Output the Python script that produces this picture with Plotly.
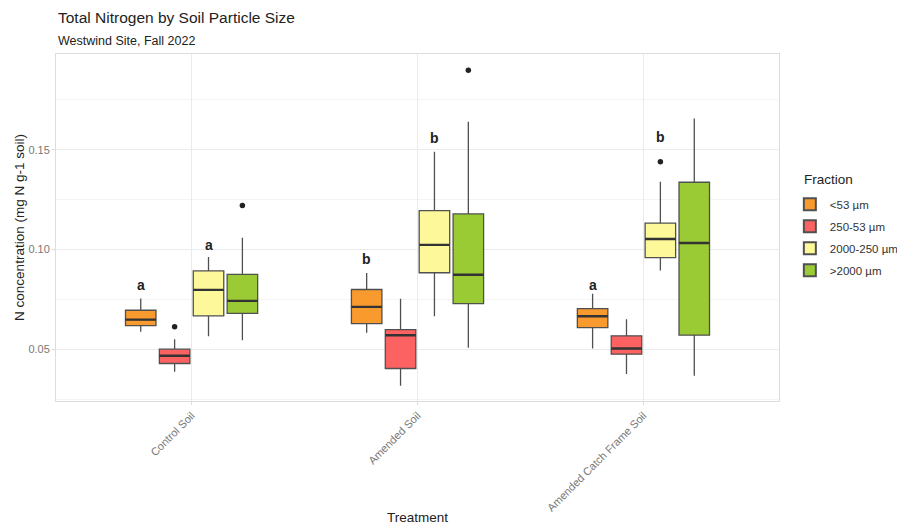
import plotly.graph_objects as go

treatments = ["Control Soil", "Amended Soil", "Amended Catch Frame Soil"]
fractions = ["<53 µm", "250-53 µm", "2000-250 µm", ">2000 µm"]
colors = ["#F99A2E", "#FC6262", "#FDF99A", "#9ACB34"]

lower = [
    [0.0587, 0.0582, 0.0503],
    [0.0387, 0.0317, 0.0375],
    [0.0565, 0.0665, 0.0895],
    [0.0545, 0.0507, 0.0367],
]
q1 = [
    [0.0618, 0.0628, 0.0608],
    [0.0428, 0.0403, 0.0475],
    [0.0667, 0.0883, 0.0959],
    [0.0679, 0.0728, 0.0570],
]
median = [
    [0.0648, 0.0712, 0.0665],
    [0.0467, 0.0570, 0.0503],
    [0.0797, 0.1023, 0.1052],
    [0.0742, 0.0873, 0.1032],
]
q3 = [
    [0.0695, 0.0799, 0.0703],
    [0.0500, 0.0598, 0.0567],
    [0.0892, 0.1195, 0.1132],
    [0.0875, 0.1178, 0.1337],
]
upper = [
    [0.0754, 0.0882, 0.0778],
    [0.0550, 0.0753, 0.0650],
    [0.0962, 0.1490, 0.1340],
    [0.1058, 0.1640, 0.1657],
]
# outliers: (fraction index, treatment index, value)
outlier_fraction = [1, 3, 3, 2]
outlier_treatment = [0, 0, 1, 2]
outlier_value = [0.0612, 0.1220, 0.1898, 0.1440]

# significance letters: (fraction index, treatment index, letter, y)
letter_fraction = [0, 0, 0, 2, 2, 2]
letter_treatment = [0, 1, 2, 0, 1, 2]
letter_text = ["a", "b", "a", "a", "b", "b"]
letter_y = [0.0820, 0.0950, 0.0820, 0.1024, 0.1560, 0.1562]

DODGE = 0.15
BOX_W = 0.135
FONT = "Liberation Sans, Arial, sans-serif"


def pos(fi, ti):
    return ti + 1 + (fi - 1.5) * DODGE


fig = go.Figure()
for fi, name in enumerate(fractions):
    xs = [pos(fi, ti) for ti in range(len(treatments))]
    fig.add_trace(go.Box(
        x=xs, q1=q1[fi], median=median[fi], q3=q3[fi],
        lowerfence=lower[fi], upperfence=upper[fi],
        width=BOX_W, name=name, fillcolor=colors[fi],
        line=dict(color="#505050", width=1.3),
        boxpoints=False, whiskerwidth=0, legendgroup=name,
    ))
    # thicker median line
    fig.add_trace(go.Box(
        x=xs, q1=median[fi], median=median[fi], q3=median[fi],
        lowerfence=median[fi], upperfence=median[fi],
        width=BOX_W, name=name, fillcolor="rgba(0,0,0,0)",
        line=dict(color="#333333", width=2.4),
        boxpoints=False, whiskerwidth=0, showlegend=False,
        legendgroup=name, hoverinfo="skip",
    ))

fig.add_trace(go.Scatter(
    x=[pos(f, t) for f, t in zip(outlier_fraction, outlier_treatment)],
    y=outlier_value, mode="markers",
    marker=dict(color="#222222", size=5.5), showlegend=False,
))

for f, t, s, y in zip(letter_fraction, letter_treatment, letter_text, letter_y):
    fig.add_annotation(x=pos(f, t), y=y, text="<b>%s</b>" % s, showarrow=False,
                       font=dict(family=FONT, size=14, color="#222222"),
                       xanchor="center", yanchor="middle")

fig.add_annotation(text="Total Nitrogen by Soil Particle Size", xref="paper", yref="paper",
                   x=0, y=1, xanchor="left", yanchor="bottom", yshift=26, showarrow=False,
                   font=dict(family=FONT, size=15.5, color="#222222"))
fig.add_annotation(text="Westwind Site, Fall 2022", xref="paper", yref="paper",
                   x=0, y=1, xanchor="left", yanchor="bottom", yshift=4, showarrow=False,
                   font=dict(family=FONT, size=12.5, color="#222222"))
fig.add_annotation(text="Fraction", xref="paper", yref="paper",
                   x=1.032, y=0.637, xanchor="left", yanchor="middle", showarrow=False,
                   font=dict(family=FONT, size=13.5, color="#222222"))

fig.update_layout(
    width=897, height=525,
    margin=dict(l=56, r=118, t=54, b=124, autoexpand=False),
    plot_bgcolor="white", paper_bgcolor="white",
    font=dict(family=FONT, size=11, color="#222222"),
    showlegend=True,
    legend=dict(
        x=1.015, y=0.609, xanchor="left", yanchor="top",
        font=dict(size=11.5, color="#333333"), itemsizing="constant",
        tracegroupgap=3,
    ),
    xaxis=dict(
        range=[0.4, 3.6], tickmode="array", tickvals=[1, 2, 3], ticktext=treatments,
        tickangle=-45, tickfont=dict(size=11, color="#777777"), automargin=False,
        showgrid=True, gridcolor="#EBEBEB", gridwidth=1, zeroline=False,
        showline=True, mirror=True, linecolor="#DDDDDD", linewidth=1,
        ticks="outside", ticklen=3, tickcolor="#DDDDDD",
        title=dict(text="Treatment", font=dict(size=13.5, color="#222222"), standoff=0),
    ),
    yaxis=dict(
        range=[0.024, 0.198], tickvals=[0.05, 0.10, 0.15], ticktext=["0.05", "0.10", "0.15"],
        tickfont=dict(size=11, color="#777777"), automargin=False,
        showgrid=True, gridcolor="#EBEBEB", gridwidth=1, zeroline=False,
        minor=dict(tickvals=[0.025, 0.075, 0.125, 0.175], showgrid=True,
                   gridcolor="#F4F4F4", gridwidth=1),
        showline=True, mirror=True, linecolor="#DDDDDD", linewidth=1,
        ticks="outside", ticklen=3, tickcolor="#DDDDDD",
        title=dict(text="N concentration (mg N g-1 soil)", font=dict(size=13.5, color="#222222"),
                   standoff=0),
    ),
)

fig.write_html("out.html", config={"displayModeBar": False},
               post_script="document.body.style.margin='0px';")
